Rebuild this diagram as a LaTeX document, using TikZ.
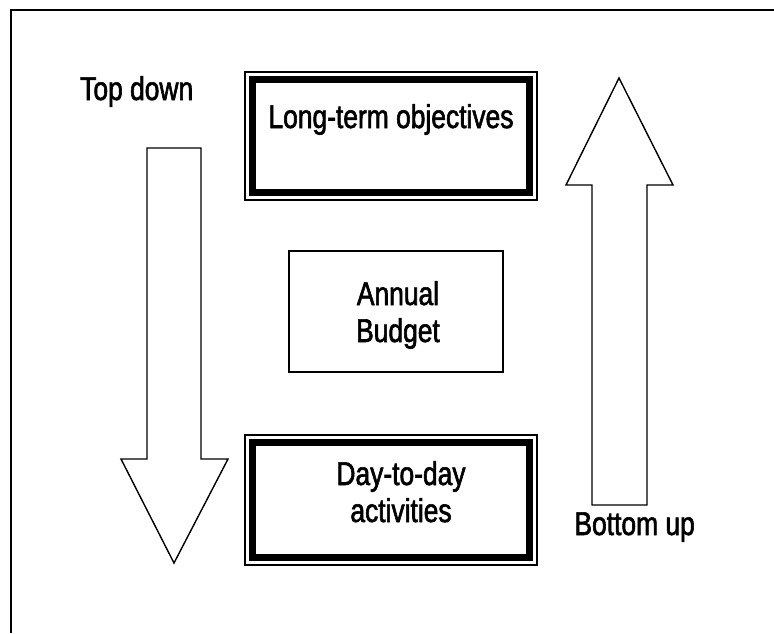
\documentclass[tikz,border=0pt]{standalone}
\usepackage{fontspec}
\setmainfont{Liberation Sans}[FakeStretch=0.80, FakeBold=1.8]
\usetikzlibrary{calc}

\tikzset{
  lbl/.style={font=\fontsize{33}{37}\selectfont, inner sep=0pt, align=center},
  heavybox/.style={draw, line width=6.5pt, outer sep=0pt, minimum width=277pt, minimum height=113pt},
  plainbox/.style={draw, line width=1.3pt, outer sep=0pt, minimum width=214pt, minimum height=121pt},
  rim/.style={line width=1.3pt},
  bigarrow/.style={draw, line width=1.4pt, line join=miter, fill=white},
}

\begin{document}
\begin{tikzpicture}[x=1pt, y=-1pt]
  \useasboundingbox (0,0) rectangle (774,633);

  % open frame: only the top and left sides are visible
  \draw[line width=1.6pt] (774,9.8) -- (11,9.8) -- (11,633);

  % the three levels (a multi-line label's base is its last line)
  \node[heavybox] (lt) at (391,136) {};
  \draw[rim] ($(lt.north west)+(-7.5,-7.5)$) rectangle ($(lt.south east)+(7.5,7.5)$);
  \node[lbl, anchor=base] (lttext) at (391,128) {Long-term objectives};

  \node[plainbox] (ab) at (396,311.5) {};
  \node[lbl, anchor=base] (abtext) at (398,342) {Annual\\Budget};

  \node[heavybox, minimum height=115pt] (dd) at (391,500) {};
  \draw[rim] ($(dd.north west)+(-7.5,-7.5)$) rectangle ($(dd.south east)+(7.5,7.5)$);
  \node[lbl, anchor=base] (ddtext) at (401,522) {Day-to-day\\activities};

  % top-down arrow
  \draw[bigarrow] (147,148) -- (201,148) -- (201,459) -- (228,459) -- (174,563)
    -- (121,459) -- (147,459) -- cycle;
  \node[lbl, anchor=base west] (td) at (80,100) {Top down};

  % bottom-up arrow
  \draw[bigarrow] (592,505) -- (647,505) -- (647,185) -- (673,185) -- (619,78)
    -- (566,185) -- (592,185) -- cycle;
  \node[lbl, anchor=base east] (bu) at (695,535) {Bottom up};
\end{tikzpicture}
\end{document}
